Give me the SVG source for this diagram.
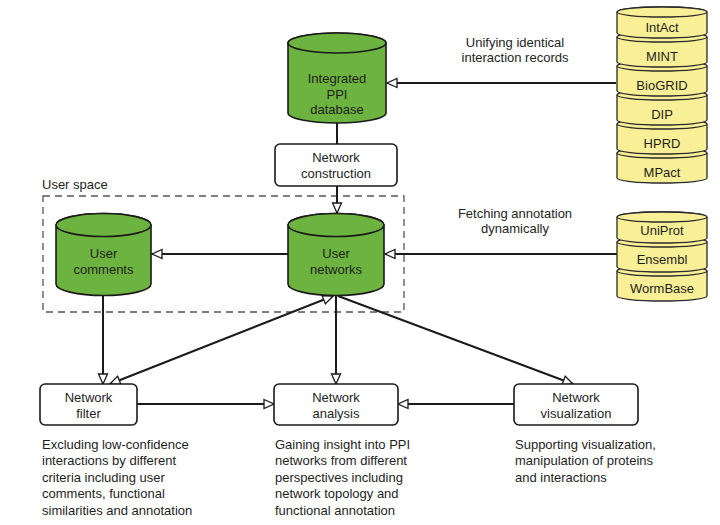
<svg xmlns="http://www.w3.org/2000/svg" width="720" height="525" viewBox="0 0 720 525">
<defs>
<style>
text{font-family:"Liberation Sans",Arial,Helvetica,sans-serif;font-size:13px;fill:#1e1e1e}
.c{text-anchor:middle}
.green{fill:#6db33f;stroke:#1a1a1a;stroke-width:1.6}
.yel{fill:#f8ef96;stroke:#2a2a2a;stroke-width:1.3}
.box{fill:#fff;stroke:#1a1a1a;stroke-width:1.6}
.ln{fill:none;stroke:#1a1a1a;stroke-width:2}
.arr{marker-end:url(#ah)}
.dash{fill:none;stroke:#555;stroke-width:1.3;stroke-dasharray:7 5}
</style>
<marker id="ah" viewBox="0 0 12 12" refX="11" refY="6" markerWidth="12" markerHeight="12" markerUnits="userSpaceOnUse" orient="auto-start-reverse">
<path d="M1,1.5 L11,6 L1,10.5 Z" fill="#fff" stroke="#1a1a1a" stroke-width="1.3"/>
</marker>
</defs>
<rect width="720" height="525" fill="#fff"/>

<g id="user-space">
<rect class="dash" x="43" y="196" width="361" height="116"/>
<text x="42" y="189">User space</text>
</g>

<g id="connectors">
<line class="ln arr" x1="616" y1="83" x2="387" y2="83"/>
<line class="ln" x1="337" y1="123" x2="337" y2="144"/>
<line class="ln arr" x1="337" y1="186" x2="337" y2="213"/>
<line class="ln arr" x1="288" y1="254" x2="152" y2="254"/>
<line class="ln arr" x1="617" y1="254" x2="385" y2="254"/>
<line class="ln arr" x1="103" y1="296" x2="103" y2="384"/>
<line class="ln" marker-start="url(#ah)" marker-end="url(#ah)" x1="333" y1="296" x2="110" y2="384"/>
<line class="ln arr" x1="336" y1="296" x2="336" y2="384"/>
<line class="ln arr" x1="338" y1="296" x2="573" y2="384"/>
<line class="ln arr" x1="137" y1="404" x2="274" y2="404"/>
<line class="ln arr" x1="514" y1="404" x2="398" y2="404"/>
</g>

<g id="integrated-ppi-database">
<path class="green" d="M288,43 A49,10 0 0 1 386,43 L386,113 A49,10 0 0 1 288,113 Z"/>
<ellipse class="green" cx="337" cy="43" rx="49" ry="10"/>
<text class="c" x="337" y="82.5">Integrated</text>
<text class="c" x="337" y="98.5">PPI</text>
<text class="c" x="337" y="113.5">database</text>
</g>

<g id="network-construction">
<rect class="box" x="275" y="144" width="122" height="42" rx="5"/>
<text class="c" x="336" y="161.5">Network</text>
<text class="c" x="336" y="177.5">construction</text>
</g>

<g id="user-comments">
<path class="green" d="M56,225 A47.5,11.5 0 0 1 151,225 L151,284 A47.5,11.5 0 0 1 56,284 Z"/>
<ellipse class="green" cx="103.5" cy="225" rx="47.5" ry="11.5"/>
<text class="c" x="103.5" y="258">User</text>
<text class="c" x="103.5" y="274">comments</text>
</g>

<g id="user-networks">
<path class="green" d="M288,225 A48,11.5 0 0 1 384,225 L384,284 A48,11.5 0 0 1 288,284 Z"/>
<ellipse class="green" cx="336" cy="225" rx="48" ry="11.5"/>
<text class="c" x="336" y="258">User</text>
<text class="c" x="336" y="274">networks</text>
</g>

<g id="source-databases">
<path class="yel" d="M617,153 A45,5 0 0 1 707,153 L707,178 A45,5 0 0 1 617,178 Z"/><ellipse class="yel" cx="662" cy="153" rx="45" ry="5"/>
<path class="yel" d="M617,124 A45,5 0 0 1 707,124 L707,149 A45,5 0 0 1 617,149 Z"/><ellipse class="yel" cx="662" cy="124" rx="45" ry="5"/>
<path class="yel" d="M617,95 A45,5 0 0 1 707,95 L707,120 A45,5 0 0 1 617,120 Z"/><ellipse class="yel" cx="662" cy="95" rx="45" ry="5"/>
<path class="yel" d="M617,66 A45,5 0 0 1 707,66 L707,91 A45,5 0 0 1 617,91 Z"/><ellipse class="yel" cx="662" cy="66" rx="45" ry="5"/>
<path class="yel" d="M617,37 A45,5 0 0 1 707,37 L707,62 A45,5 0 0 1 617,62 Z"/><ellipse class="yel" cx="662" cy="37" rx="45" ry="5"/>
<path class="yel" d="M617,12 A45,5 0 0 1 707,12 L707,33 A45,5 0 0 1 617,33 Z"/><ellipse class="yel" cx="662" cy="12" rx="45" ry="5"/>
<text class="c" x="662" y="31.5">IntAct</text>
<text class="c" x="662" y="60.5">MINT</text>
<text class="c" x="662" y="89.5">BioGRID</text>
<text class="c" x="662" y="118.5">DIP</text>
<text class="c" x="662" y="147.5">HPRD</text>
<text class="c" x="662" y="176.5">MPact</text>
</g>

<g id="annotation-databases">
<path class="yel" d="M617,271 A45,5 0 0 1 707,271 L707,296 A45,5 0 0 1 617,296 Z"/><ellipse class="yel" cx="662" cy="271" rx="45" ry="5"/>
<path class="yel" d="M617,242 A45,5 0 0 1 707,242 L707,267 A45,5 0 0 1 617,267 Z"/><ellipse class="yel" cx="662" cy="242" rx="45" ry="5"/>
<path class="yel" d="M617,217 A45,5 0 0 1 707,217 L707,238 A45,5 0 0 1 617,238 Z"/><ellipse class="yel" cx="662" cy="217" rx="45" ry="5"/>
<text class="c" x="662" y="234.5">UniProt</text>
<text class="c" x="662" y="263.5">Ensembl</text>
<text class="c" x="662" y="292.5">WormBase</text>
</g>

<g id="edge-labels">
<text class="c" x="515" y="47">Unifying identical</text>
<text class="c" x="515" y="61.5">interaction records</text>
<text class="c" x="515" y="217.5">Fetching annotation</text>
<text class="c" x="515" y="232.5">dynamically</text>
</g>

<g id="network-filter">
<rect class="box" x="40" y="384" width="97" height="41" rx="5"/>
<text class="c" x="88.5" y="401.5">Network</text>
<text class="c" x="88.5" y="417.5">filter</text>
</g>

<g id="network-analysis">
<rect class="box" x="274" y="384" width="124" height="41" rx="5"/>
<text class="c" x="336" y="401.5">Network</text>
<text class="c" x="336" y="417.5">analysis</text>
</g>

<g id="network-visualization">
<rect class="box" x="514" y="384" width="124" height="41" rx="5"/>
<text class="c" x="576" y="401.5">Network</text>
<text class="c" x="576" y="417.5">visualization</text>
</g>

<g id="descriptions">
<text x="42" y="448.5">Excluding low-confidence</text>
<text x="42" y="465">interactions by different</text>
<text x="42" y="481.5">criteria including user</text>
<text x="42" y="498">comments, functional</text>
<text x="42" y="514.5">similarities and annotation</text>
<text x="275" y="448.5">Gaining insight into PPI</text>
<text x="275" y="465">networks from different</text>
<text x="275" y="481.5">perspectives including</text>
<text x="275" y="498">network topology and</text>
<text x="275" y="514.5">functional annotation</text>
<text x="515" y="448.5">Supporting visualization,</text>
<text x="515" y="465">manipulation of proteins</text>
<text x="515" y="481.5">and interactions</text>
</g>
</svg>
